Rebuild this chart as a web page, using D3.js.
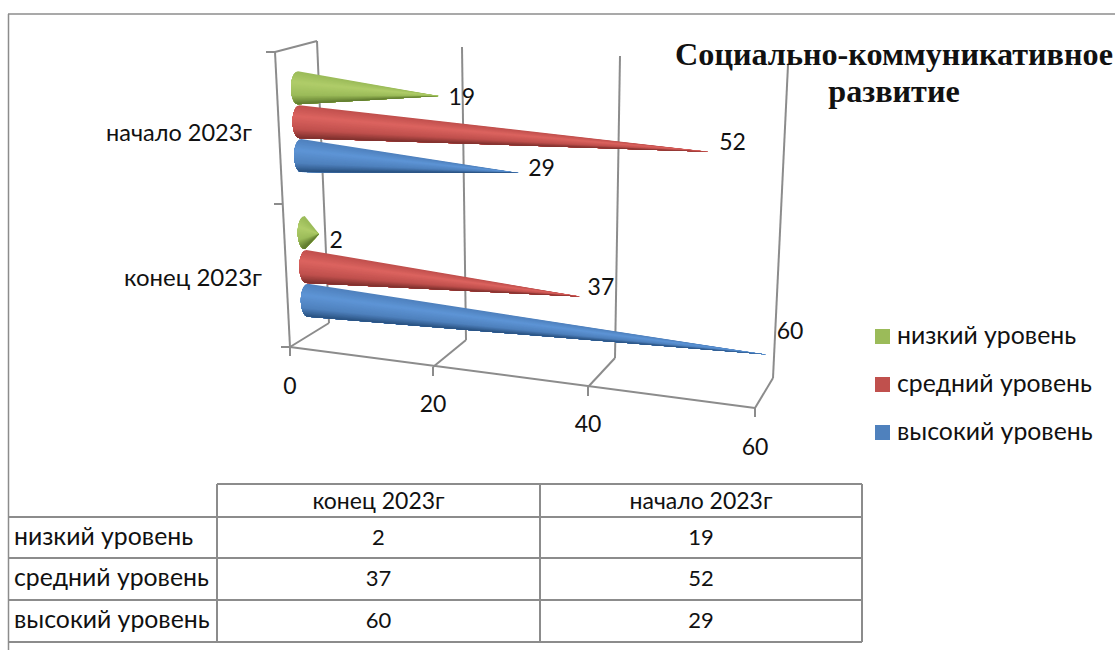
<!DOCTYPE html>
<html>
<head>
<meta charset="utf-8">
<script src="https://cdn.jsdelivr.net/npm/d3@7"></script>
<style>
  html, body { margin: 0; padding: 0; background: #fff; overflow: hidden; }
  text { font-family: "Lato", "Open Sans", sans-serif; fill: #111; }
</style>
</head>
<body>
<div id="chart"></div>
<script>
// data
var categories = ["конец 2023г", "начало 2023г"];
var seriesNames = ["высокий уровень", "средний уровень", "низкий уровень"];
var lowValues = [2, 19];
var midValues = [37, 52];
var highValues = [60, 29];
var axisTicks = [0, 20, 40, 60];

var values = {
  "низкий уровень": lowValues,
  "средний уровень": midValues,
  "высокий уровень": highValues
};

// dark, main and light tone of each cone
var shades = {
  "низкий уровень": ["#5f7a2e", "#9bbb59", "#b0cd6a"],
  "средний уровень": ["#7d2f2d", "#c0504d", "#dc6460"],
  "высокий уровень": ["#28507f", "#4f81bd", "#5e95d6"]
};

var width = 1115, height = 650;

var svg = d3.select("#chart").append("svg")
  .attr("width", width)
  .attr("height", height);

// the 3d box: one piecewise scale per edge of it (perspective, so not evenly spaced)
var frontX = d3.scaleLinear().domain(axisTicks).range([290, 433, 588, 755]);
var frontY = d3.scaleLinear().domain(axisTicks).range([347, 367, 387, 408]);
var backX = d3.scaleLinear().domain(axisTicks).range([329, 466, 615, 773]);
var backY = d3.scaleLinear().domain(axisTicks).range([323, 340, 358, 378]);
var topX = d3.scaleLinear().domain(axisTicks).range([317, 462, 620, 788]);
var topY = d3.scaleLinear().domain(axisTicks).range([41, 47, 56, 65]);

// height inside the box, 0 = floor and 1 = ceiling
var catScale = d3.scaleBand().domain(categories).range([-0.013, 0.987]);
var serScale = d3.scalePoint().domain(seriesNames).range([-0.117, 0.117]);

function cone(v, h) {
  // middle plane of the box, half way between front and back
  var fx = (frontX(v) + backX(v)) / 2, fy = (frontY(v) + backY(v)) / 2;
  var depthShift = (60 - v) / 60 * 14 + 7;
  var tx = topX(v) - depthShift, ty = topY(v) + 4.5 + v / 60 * 3;
  return [fx + (tx - fx) * h, fy + (ty - fy) * h];
}

var line = function(x1, y1, x2, y2, w) {
  svg.append("line")
    .attr("x1", x1).attr("y1", y1).attr("x2", x2).attr("y2", y2)
    .attr("stroke", "#8c8c8c")
    .attr("stroke-width", w || 2);
};

// outer frame
line(8.5, 14, 8.5, height, 1.5);
line(8, 14, width, 14, 1.5);

// back wall and floor grid
axisTicks.forEach(function(t) {
  line(topX(t), topY(t), backX(t), backY(t));
  line(backX(t), backY(t), frontX(t), frontY(t));
  line(frontX(t), frontY(t), frontX(t), frontY(t) + 9);
});

// left wall and front edge
line(frontX(0), frontY(0), frontX(60), frontY(60));
line(frontX(0), frontY(0), 275, 52);
line(275, 52, topX(0), topY(0));
line(266, 52, 275, 52);
line(274, 204, 283, 204);
line(281, 347, 290, 347);

// tick labels
svg.selectAll(".tick-label")
  .data(axisTicks)
  .enter().append("text")
    .attr("class", "tick-label")
    .attr("x", function(d) { return frontX(d); })
    .attr("y", function(d) { return frontY(d) + (d == 20 || d == 40 ? 45 : 47); })
    .attr("text-anchor", "middle")
    .style("font-size", "23px")
    .text(function(d) { return d; });

// category labels
svg.selectAll(".cat-label")
  .data(categories)
  .enter().append("text")
    .attr("class", "cat-label")
    .attr("x", function(d, i) { return i == 0 ? 262 : 252; })
    .attr("y", function(d, i) { return i == 0 ? 286 : 141; })
    .attr("text-anchor", "end")
    .style("font-size", function(d, i) { return i == 0 ? "24px" : "23.5px"; })
    .text(function(d) { return d; });

// cones, drawn top row first so the lower ones sit over the upper ones
var baseRadius = 16.5, baseRx = 7;
var strips = 40;

function drawCone(name, catIndex) {
  var v = values[name][catIndex];
  var cat = categories[catIndex];
  var h = catScale(cat) + catScale.bandwidth() / 2 + serScale(name);
  var base = cone(0, h), tip = cone(v, h);
  var tone = d3.scaleLinear()
    .domain([-1, -0.35, 0.45, 1])
    .range([shades[name][1], shades[name][2], shades[name][1], shades[name][0]]);

  function arcPoint(s) {
    return [base[0] - baseRx * Math.sqrt(Math.max(0, 1 - s * s)), base[1] + baseRadius * s];
  }

  var g = svg.append("g").attr("class", "cone");
  // each shape covers the rest of the arc and the next one paints over it, no seams that way
  d3.range(strips).forEach(function(i) {
    var s0 = -1 + 2 * i / strips;
    var pts = d3.range(i, strips + 1).map(function(j) { return arcPoint(-1 + 2 * j / strips); });
    pts.push(tip);
    g.append("path")
      .attr("d", d3.line()(pts) + "Z")
      .attr("fill", tone(s0 + 1 / strips));
  });
}

var drawOrder = ["низкий уровень", "средний уровень", "высокий уровень"];
[1, 0].forEach(function(ci) {
  drawOrder.forEach(function(name) { drawCone(name, ci); });
});

// value labels next to the tips
var labelOffset = {
  "низкий уровень": [[17, 14], [23, 9]],
  "средний уровень": [[21, -1], [24, -2]],
  "высокий уровень": [[24, -16], [23, 3]]
};
drawOrder.forEach(function(name) {
  categories.forEach(function(cat, ci) {
    var h = catScale(cat) + catScale.bandwidth() / 2 + serScale(name);
    var p = cone(values[name][ci], h);
    svg.append("text")
      .attr("x", p[0] + labelOffset[name][ci][0])
      .attr("y", p[1] + labelOffset[name][ci][1])
      .attr("text-anchor", "middle")
      .style("font-size", "23px")
      .text(values[name][ci]);
  });
});

// title
svg.append("text")
  .attr("x", 894).attr("y", 65)
  .attr("text-anchor", "middle")
  .style("font-family", "'Liberation Serif', serif")
  .style("font-weight", "bold")
  .style("font-size", "32.2px")
  .text("Социально-коммуникативное");
svg.append("text")
  .attr("x", 894).attr("y", 102)
  .attr("text-anchor", "middle")
  .style("font-family", "'Liberation Serif', serif")
  .style("font-weight", "bold")
  .style("font-size", "32.2px")
  .text("развитие");

// legend
var legend = svg.selectAll(".legend")
  .data(drawOrder)
  .enter().append("g")
    .attr("class", "legend")
    .attr("transform", function(d, i) { return "translate(875," + (329 + i * 48) + ")"; });
legend.append("rect")
  .attr("width", 15).attr("height", 15)
  .attr("fill", function(d) { return shades[d][1]; });
legend.append("text")
  .attr("x", 22).attr("y", 15)
  .style("font-size", "24.8px")
  .text(function(d) { return d; });

// data table under the chart
var rowY = d3.scaleLinear().domain([0, 1, 2, 3, 4]).range([484, 517, 558, 600, 642]);
var colX = d3.scaleLinear().domain([0, 1, 2]).range([217, 540, 862]);

[0, 1, 2, 3, 4].forEach(function(r) {
  line(r == 0 ? colX(0) : 8, rowY(r), colX(2), rowY(r));
});
[0, 1, 2].forEach(function(c) {
  line(colX(c), rowY(0), colX(c), rowY(4));
});
categories.forEach(function(cat, c) {
  svg.append("text")
    .attr("x", (colX(c) + colX(c + 1)) / 2)
    .attr("y", 509)
    .attr("text-anchor", "middle")
    .style("font-size", "23px")
    .text(cat);
});
drawOrder.forEach(function(name, r) {
  svg.append("text")
    .attr("x", 14)
    .attr("y", rowY(r + 1) + 28)
    .style("font-size", "24.8px")
    .text(name);
  values[name].forEach(function(v, c) {
    svg.append("text")
      .attr("x", (colX(c) + colX(c + 1)) / 2)
      .attr("y", rowY(r + 1) + 28)
      .attr("text-anchor", "middle")
      .style("font-size", "22px")
      .text(v);
  });
});
</script>
</body>
</html>
